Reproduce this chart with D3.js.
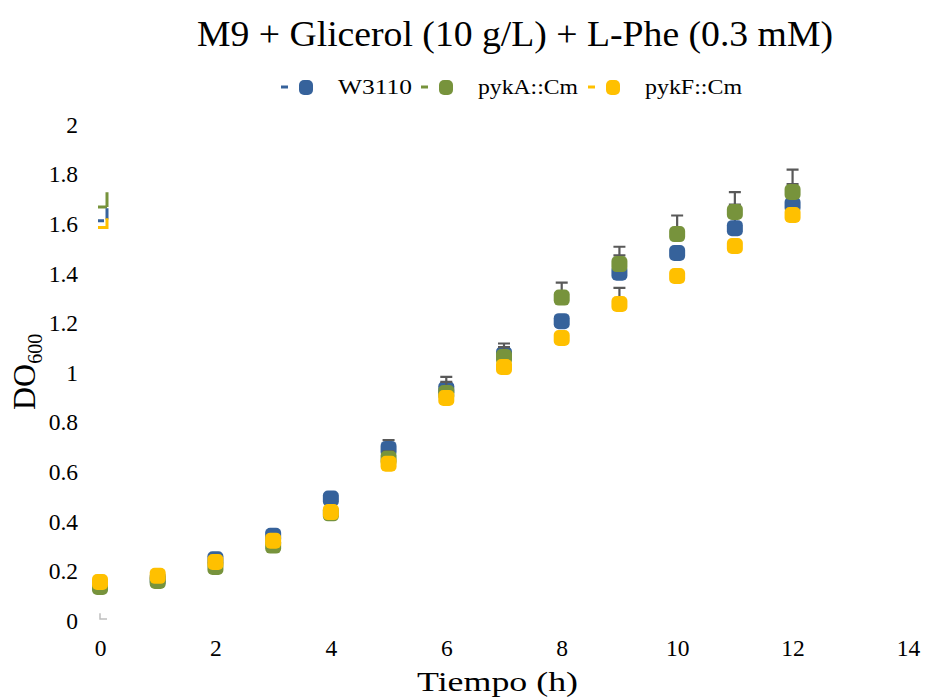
<!DOCTYPE html>
<html><head><meta charset="utf-8">
<script src="https://cdn.jsdelivr.net/npm/d3@7"></script>
<style>body{margin:0;background:#fff}svg{display:block}text{font-family:"Liberation Serif",serif;fill:#000}</style>
</head><body><svg id="c" width="925" height="697"></svg>
<script>
const hours = [0,1,2,3,4,5,6,7,8,9,10,11,12];
const seriesNames = ["W3110","pykA::Cm","pykF::Cm"];
const w3110 = [0.14,0.165,0.245,0.34,0.49,0.69,0.93,1.07,1.205,1.40,1.48,1.58,1.673];
const pykA  = [0.133,0.157,0.214,0.30,0.43,0.65,0.915,1.06,1.30,1.435,1.556,1.645,1.726];
const pykF  = [0.153,0.178,0.234,0.32,0.435,0.63,0.895,1.02,1.137,1.274,1.387,1.508,1.633];
const errW  = [0.005,0.005,0.01,0.01,0.01,0.035,0.05,0.045,0.02,0.07,0.02,0.095,0.085];
const errA  = [0.005,0.005,0.01,0.01,0.01,0.03,0.045,0.04,0.06,0.07,0.075,0.08,0.09];
const errF  = [0.005,0.005,0.01,0.01,0.01,0.01,0.01,0.01,0.01,0.065,0.01,0.01,0.01];
const xTicks = [0,2,4,6,8,10,12,14];
const yTicks = [0,0.2,0.4,0.6,0.8,1,1.2,1.4,1.6,1.8,2];
const colors = ["#36629b","#77933c","#ffc000"];

const svg = d3.select("#c");
const x = d3.scaleLinear().domain([0,14]).range([100,908]);
const y = d3.scaleLinear().domain([0,2]).range([620,124]);

// title
svg.append("text").attr("x",197).attr("y",46)
  .attr("textLength",636).attr("lengthAdjust","spacingAndGlyphs")
  .style("font-size","35px").text("M9 + Glicerol (10 g/L) + L-Phe (0.3 mM)");

// axes (no lines)
const yAxis = svg.append("g").attr("transform","translate(78,0)")
  .call(d3.axisLeft(y).tickValues(yTicks).tickSize(0).tickPadding(0).tickFormat(d=>String(+d.toFixed(1))));
yAxis.select(".domain").remove();
yAxis.selectAll("text").style("font-size","23.5px").attr("font-family","Liberation Serif").attr("fill","#000").attr("dy","0.35em");

const xAxis = svg.append("g").attr("transform","translate(0,639)")
  .call(d3.axisBottom(x).tickValues(xTicks).tickSize(0).tickPadding(0));
xAxis.select(".domain").remove();
xAxis.selectAll("text").style("font-size","23.5px").attr("font-family","Liberation Serif").attr("fill","#000").attr("dy","0.71em");

svg.append("text").attr("x",417).attr("y",691).attr("textLength",161).attr("lengthAdjust","spacingAndGlyphs")
  .style("font-size","27px").text("Tiempo (h)");
const yt = svg.append("text").attr("transform","translate(35,410) rotate(-90)").style("font-size","32px");
yt.append("tspan").text("DO");
yt.append("tspan").attr("dy",7).style("font-size","20px").text("600");

// small stray marks near origin and at x=0 (artifacts)
const g0 = svg.append("g");
g0.append("path").attr("d",`M${x(0)},${y(0.027)}V${y(0)-1}H${x(0)+7}`).attr("stroke","#bfbfbf").attr("stroke-width",1.5).attr("fill","none");
g0.append("path").attr("d",`M${x(0)-2},${y(1.665)}H${x(0)+7}M${x(0)+7},${y(1.665)}V${y(1.725)}`).attr("stroke",colors[1]).attr("stroke-width",3).attr("fill","none");
g0.append("path").attr("d",`M${x(0)-2},${y(1.61)}H${x(0)+4}M${x(0)+7},${y(1.66)}V${y(1.615)}`).attr("stroke",colors[0]).attr("stroke-width",3).attr("fill","none");
g0.append("path").attr("d",`M${x(0)-2},${y(1.583)}H${x(0)+7}V${y(1.62)}`).attr("stroke",colors[2]).attr("stroke-width",3).attr("fill","none");

const all = [w3110,pykA,pykF];
const errs = [errW,errA,errF];
all.forEach((vals,si)=>{
  const g = svg.append("g");
  const e = errs[si];
  g.selectAll("path.err").data(hours).join("path").attr("class","err")
    .attr("d",(h,i)=>{
      const cx=x(h), t=y(vals[i]+e[i]), b=y(vals[i]);
      return `M${cx},${t}V${b}M${cx-6},${t}H${cx+6}`;
    }).attr("stroke","#595959").attr("stroke-width",2.2).attr("fill","none");
  g.selectAll("rect").data(hours).join("rect")
    .attr("x",h=>x(h)-8).attr("y",(h,i)=>y(vals[i])-8).attr("width",16).attr("height",16)
    .attr("rx",5).attr("fill",colors[si]);
});

// legend
const lx = [281,421,588];
const lw = [74,100,97];
seriesNames.forEach((n,i)=>{
  const lg = svg.append("g");
  lg.append("line").attr("x1",lx[i]).attr("x2",lx[i]+7).attr("y1",87).attr("y2",87).attr("stroke",colors[i]).attr("stroke-width",3);
  lg.append("rect").attr("x",lx[i]+18).attr("y",80).attr("width",14).attr("height",15).attr("rx",5).attr("fill",colors[i]);
  lg.append("text").attr("x",lx[i]+57).attr("y",94).attr("textLength",lw[i]).attr("lengthAdjust","spacingAndGlyphs")
    .style("font-size","22px").text(n);
});
</script></body></html>
